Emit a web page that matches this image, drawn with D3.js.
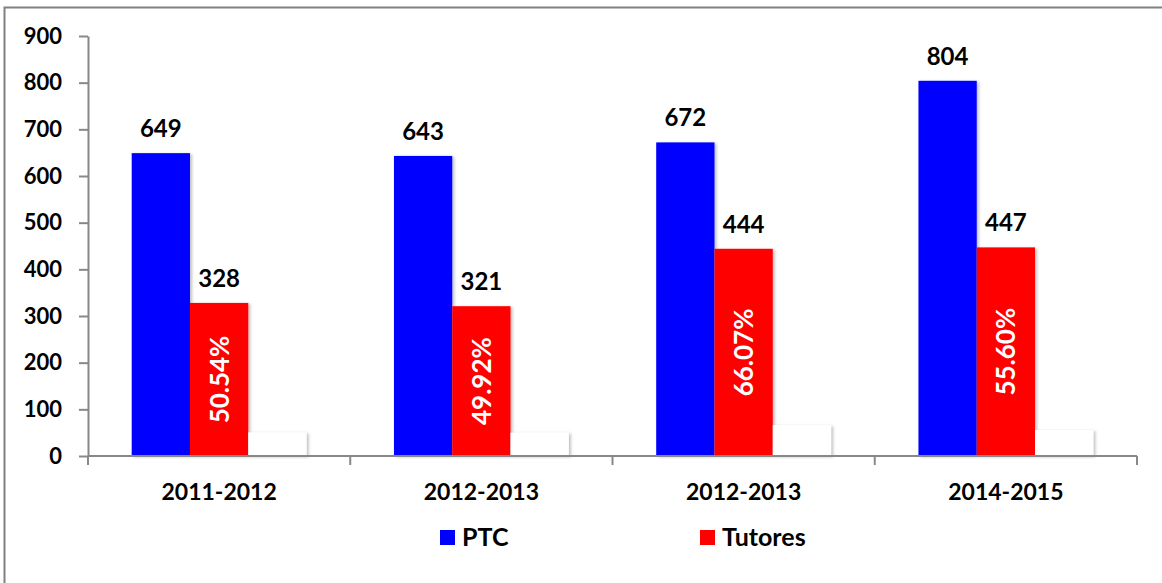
<!DOCTYPE html>
<html>
<head>
<meta charset="utf-8">
<script src="https://cdn.jsdelivr.net/npm/d3@7"></script>
<style>
  body { margin: 0; background: #fff; }
  svg text { font-family: Lato, "Open Sans", "DejaVu Sans", sans-serif; font-weight: bold; }
</style>
</head>
<body>
<div id="viz"></div>
<script>
// data
const categories = ["2011-2012", "2012-2013", "2012-2013", "2014-2015"];
const ptc = [649, 643, 672, 804];
const tutores = [328, 321, 444, 447];
const pctValues = [50.54, 49.92, 66.07, 55.60];
const pctLabels = ["50.54%", "49.92%", "66.07%", "55.60%"];
const yTicks = [0, 100, 200, 300, 400, 500, 600, 700, 800, 900];

const width = 1162, height = 583;
const margin = {top: 36, right: 25, bottom: 127, left: 88};

const svg = d3.select("#viz").append("svg")
    .attr("width", width)
    .attr("height", height);

// soft shadow like the office chart
const defs = svg.append("defs");
const f = defs.append("filter").attr("id", "shadow")
    .attr("x", "-10%").attr("y", "-10%").attr("width", "130%").attr("height", "130%");
f.append("feDropShadow")
    .attr("dx", 2).attr("dy", 1).attr("stdDeviation", 1.5)
    .attr("flood-color", "#000").attr("flood-opacity", 0.25);

// outer frame
svg.append("rect")
    .attr("x", 4.5).attr("y", 7.5)
    .attr("width", width + 10).attr("height", height + 10)
    .attr("fill", "none")
    .attr("stroke", "#808080")
    .attr("stroke-width", 2);

const g = svg.append("g").attr("transform", "translate(" + margin.left + "," + margin.top + ")");
const plotW = 1137 - margin.left;
const plotH = 456 - margin.top;

let x = d3.scaleBand()
    .domain(d3.range(categories.length))
    .range([0, plotW]);

let y = d3.scaleLinear()
    .domain([0, 900])
    .range([plotH, 0]);

// three bars per group, gap of 1.5 bar widths
const barW = x.bandwidth() / 4.5;
const offset = barW * 0.75;

const series = [
    {vals: ptc, color: "#0000ff"},
    {vals: tutores, color: "#ff0000"},
    {vals: pctValues, color: "#ffffff"}
];

series.forEach(function(s, si) {
    g.selectAll(".bar" + si)
        .data(s.vals)
        .enter().append("rect")
        .attr("class", "bar" + si)
        .attr("x", function(d, i) { return x(i) + offset + si * barW; })
        .attr("y", function(d) { return y(d); })
        .attr("width", barW)
        .attr("height", function(d) { return plotH - y(d); })
        .attr("fill", s.color)
        .attr("filter", "url(#shadow)");
});

// value labels above blue and red bars
[ptc, tutores].forEach(function(vals, si) {
    g.selectAll(".lbl" + si)
        .data(vals)
        .enter().append("text")
        .attr("x", function(d, i) { return x(i) + offset + si * barW + barW / 2; })
        .attr("y", function(d) { return y(d) - 16; })
        .attr("text-anchor", "middle")
        .style("font-size", "24px")
        .attr("fill", "#000")
        .text(function(d) { return d; });
});

// percentages written inside the red bars
g.selectAll(".pct")
    .data(tutores)
    .enter().append("text")
    .attr("transform", function(d, i) {
        const cx = x(i) + offset + barW * 1.5;
        const cy = (y(d) + plotH) / 2;
        return "translate(" + cx + "," + cy + ") rotate(-90)";
    })
    .attr("text-anchor", "middle")
    .attr("dy", "0.36em")
    .style("font-size", "26px")
    .attr("fill", "#fff")
    .text(function(d, i) { return pctLabels[i]; });

// y axis
const yAxis = g.append("g")
    .call(d3.axisLeft(y).tickValues(yTicks).tickSize(9).tickSizeOuter(0).tickPadding(17));
yAxis.selectAll("text").style("font-size", "22px").attr("fill", "#000");
yAxis.selectAll("line").attr("stroke", "#888").attr("stroke-width", 2);
yAxis.select(".domain").attr("stroke", "#888").attr("stroke-width", 2);

// x axis with ticks between groups
const xAxis = g.append("g").attr("transform", "translate(0," + plotH + ")");
xAxis.append("line")
    .attr("x1", 0).attr("x2", plotW)
    .attr("stroke", "#888").attr("stroke-width", 2);
xAxis.selectAll(".xt")
    .data(d3.range(categories.length + 1))
    .enter().append("line")
    .attr("x1", function(d) { return d * x.step(); })
    .attr("x2", function(d) { return d * x.step(); })
    .attr("y1", 0).attr("y2", 9)
    .attr("stroke", "#888").attr("stroke-width", 2);
xAxis.selectAll(".xl")
    .data(categories)
    .enter().append("text")
    .attr("x", function(d, i) { return x(i) + x.bandwidth() / 2; })
    .attr("y", 44)
    .attr("text-anchor", "middle")
    .style("font-size", "23px")
    .attr("fill", "#000")
    .text(function(d) { return d; });

// legend
const legendItems = [{name: "PTC", color: "#0000ff", x: 440}, {name: "Tutores", color: "#ff0000", x: 700}];
const legend = svg.selectAll(".legend")
    .data(legendItems)
    .enter().append("g")
    .attr("transform", function(d) { return "translate(" + d.x + ",530)"; });
legend.append("rect")
    .attr("width", 15).attr("height", 15)
    .attr("fill", function(d) { return d.color; });
legend.append("text")
    .attr("x", 22).attr("y", 16)
    .style("font-size", "25px")
    .attr("fill", "#000")
    .text(function(d) { return d.name; });
</script>
</body>
</html>
